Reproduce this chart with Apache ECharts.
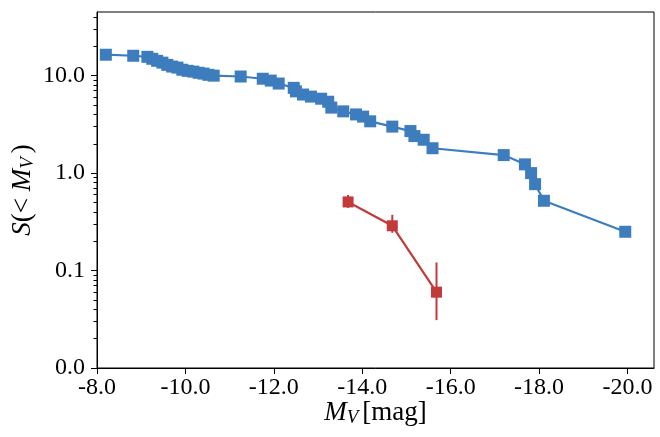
<!DOCTYPE html>
<html>
<head>
<meta charset="utf-8">
<script src="https://cdn.jsdelivr.net/npm/echarts@6/dist/echarts.min.js"></script>
<style>html,body{margin:0;padding:0;background:#fff}#c{width:660px;height:437px}</style>
</head>
<body>
<div id="c"></div>
<script>
// Blue series: M_V and S(<M_V)
const blueX = [-8.20,-8.82,-9.14,-9.25,-9.36,-9.48,-9.59,-9.70,-9.82,-9.93,-10.05,-10.18,-10.30,-10.41,-10.52,-10.64,-11.25,-11.75,-11.93,-12.11,-12.45,-12.50,-12.66,-12.84,-13.07,-13.23,-13.30,-13.57,-13.86,-14.02,-14.18,-14.68,-15.09,-15.18,-15.39,-15.59,-17.20,-17.68,-17.82,-17.91,-18.11,-19.95];
const blueS = [16.4,16.0,15.6,14.9,14.2,13.6,12.9,12.4,12.1,11.5,11.2,11.0,10.7,10.5,10.2,10.0,9.8,9.3,8.9,8.3,7.5,6.9,6.4,6.1,5.8,5.4,4.7,4.3,4.0,3.8,3.4,3.0,2.7,2.4,2.2,1.8,1.53,1.23,1.0,0.77,0.52,0.25];
// Red series with error bars
const redX = [-13.68,-14.68,-15.68];
const redS = [0.506,0.288,0.060];
const redLo = [0.44,0.244,0.031];
const redHi = [0.597,0.373,0.121];
// Ticks
const xTicks = [-8,-10,-12,-14,-16,-18,-20];
const yTicks = [0.01,0.1,1,10];
const yMinor = [0.02,0.03,0.04,0.05,0.06,0.07,0.08,0.09,0.2,0.3,0.4,0.5,0.6,0.7,0.8,0.9,2,3,4,5,6,7,8,9,20,30,40];

const BLUE = '#3d7dbd';
const RED = '#c23a3a';
const FONT = '"Liberation Serif", "Times New Roman", serif';

const chart = echarts.init(document.getElementById('c'));
const yBase = {
  type: 'log', logBase: 10, min: 0.01, max: 45, position: 'left'
};
const richName = {
  i: { fontFamily: FONT, fontStyle: 'italic', fontSize: 27, color: '#000' },
  s: { fontFamily: FONT, fontStyle: 'italic', fontSize: 19, color: '#000', verticalAlign: 'bottom', padding: [10, 4, 0, 0] },
  n: { fontFamily: FONT, fontSize: 27, color: '#000' }
};
chart.setOption({
  animation: false,
  grid: { left: 97, right: 6, top: 12, bottom: 69, show: true, borderColor: '#000', borderWidth: 1, backgroundColor: 'transparent' },
  xAxis: {
    type: 'value', inverse: true, min: -20.6, max: -8,
    axisLine: { show: true, onZero: false, lineStyle: { color: '#000', width: 1 } },
    axisTick: { show: true, inside: false, length: 6, customValues: xTicks, lineStyle: { color: '#000' } },
    axisLabel: { customValues: xTicks, formatter: v => v.toFixed(1), color: '#000', fontFamily: FONT, fontSize: 24, margin: 8 },
    splitLine: { show: false },
    name: '{i|M}{s|V}{n|[mag]}', nameLocation: 'middle', nameGap: 30, nameMoveOverlap: false,
    nameTextStyle: { color: '#000', fontFamily: FONT, fontSize: 27, rich: richName }
  },
  yAxis: [
    Object.assign({}, yBase, {
      axisLine: { show: true, lineStyle: { color: '#000', width: 1 } },
      axisTick: { show: true, inside: false, length: 6, customValues: yTicks, lineStyle: { color: '#000' } },
      axisLabel: { customValues: yTicks, formatter: v => v.toFixed(1), color: '#000', fontFamily: FONT, fontSize: 24, margin: 12 },
      splitLine: { show: false },
      minorTick: { show: false },
      name: '{i|S}{n|(< }{i|M}{s|V}{n|)}', nameLocation: 'middle', nameGap: 60, nameRotate: 90, nameMoveOverlap: false,
      nameTextStyle: { color: '#000', fontFamily: FONT, fontSize: 27, rich: richName }
    }),
    Object.assign({}, yBase, {
      show: true,
      axisLine: { show: false },
      axisTick: { show: true, inside: false, length: 3.5, customValues: yMinor, lineStyle: { color: '#000' } },
      axisLabel: { show: false },
      splitLine: { show: false }
    })
  ],
  series: [
    {
      type: 'line', yAxisIndex: 0,
      data: blueX.map((x, i) => [x, blueS[i]]),
      symbol: 'rect', symbolSize: 12,
      lineStyle: { color: BLUE, width: 2.2 },
      itemStyle: { color: BLUE },
      z: 3
    },
    {
      type: 'custom', yAxisIndex: 0,
      data: redX.map((x, i) => [x, redLo[i], redHi[i]]),
      renderItem: function (params, api) {
        const p1 = api.coord([api.value(0), api.value(1)]);
        const p2 = api.coord([api.value(0), api.value(2)]);
        return { type: 'line', shape: { x1: p1[0], y1: p1[1], x2: p2[0], y2: p2[1] }, style: { stroke: RED, lineWidth: 2 } };
      },
      z: 4
    },
    {
      type: 'line', yAxisIndex: 0,
      data: redX.map((x, i) => [x, redS[i]]),
      symbol: 'rect', symbolSize: 11,
      lineStyle: { color: RED, width: 2.2 },
      itemStyle: { color: RED },
      z: 5
    }
  ]
});
</script>
</body>
</html>
